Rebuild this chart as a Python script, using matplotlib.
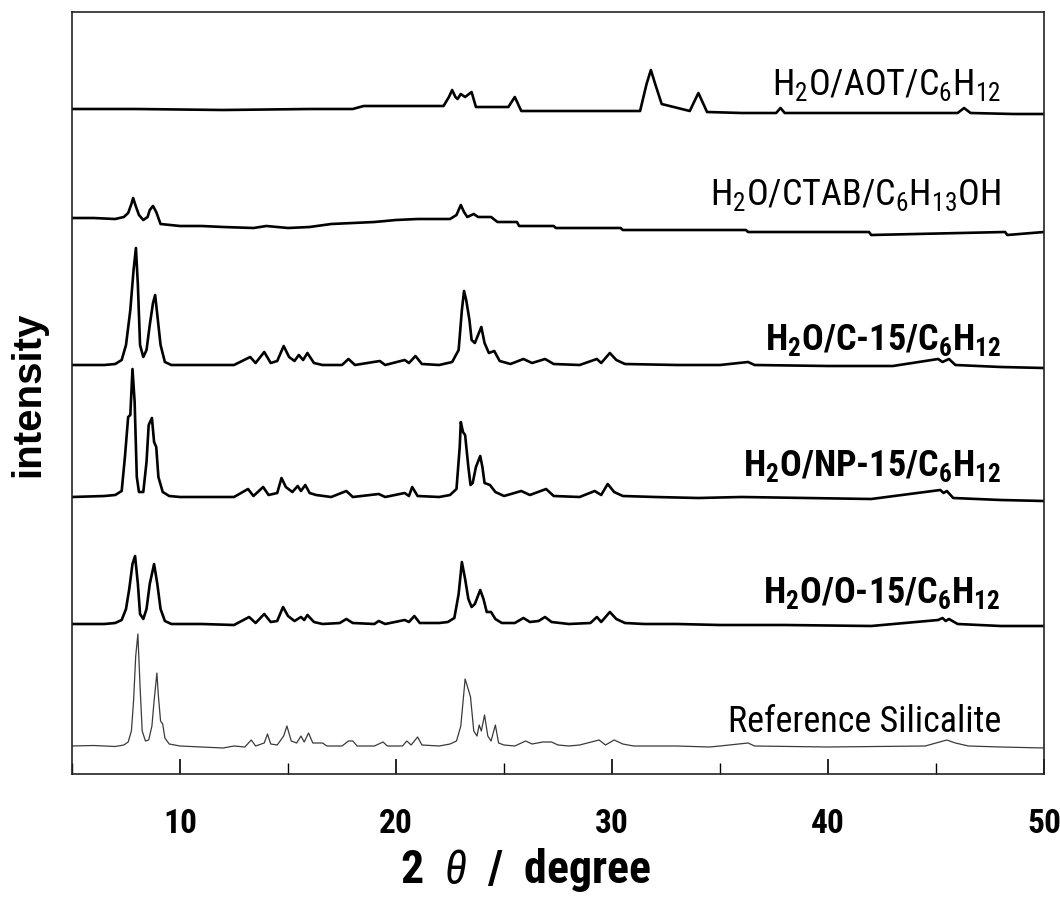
import matplotlib
matplotlib.use("Agg")
import matplotlib.pyplot as plt
from matplotlib import font_manager
from matplotlib.ticker import MultipleLocator

# buscar una fuente estrecha (tipo Arial Narrow)
entries = font_manager.fontManager.ttflist
names = {f.name for f in entries}
narrow = None
stretch = 'normal'
for cand in ['Liberation Sans Narrow', 'Arial Narrow', 'Roboto Condensed', 'DejaVu Sans Condensed',
             'Open Sans Condensed']:
    if cand in names:
        narrow = cand
        break
if narrow is None:
    for f in entries:
        if f.stretch in ('condensed', 'semi-condensed', 'extra-condensed') and 'Mono' not in f.name:
            narrow, stretch = f.name, f.stretch
            break
if narrow is None:
    narrow = 'Liberation Sans'

plt.rcParams['font.family'] = [narrow, 'DejaVu Sans']
plt.rcParams['font.stretch'] = stretch
plt.rcParams['mathtext.fontset'] = 'custom'
plt.rcParams['mathtext.rm'] = narrow + ':stretch=' + stretch
plt.rcParams['mathtext.it'] = narrow + ':italic:stretch=' + stretch
plt.rcParams['mathtext.bf'] = narrow + ':bold:stretch=' + stretch

# ---- datos (2theta, intensidad relativa) ----
ref_x = [5.0, 6.0, 7.0, 7.4, 7.6, 7.75, 7.85, 7.95, 8.05, 8.15, 8.25, 8.4, 8.55, 8.7, 8.8, 8.93, 9.0, 9.1, 9.2,
         9.3, 9.5, 10.0, 11.0, 12.0, 12.5, 13.0, 13.3, 13.5, 13.9, 14.05, 14.2, 14.5, 14.8, 14.95, 15.15, 15.4,
         15.6, 15.75, 15.95, 16.15, 16.6, 16.8, 17.5, 17.8, 18.0, 18.2, 19.0, 19.4, 19.6, 20.3, 20.5, 20.7, 21.0,
         21.2, 22.0, 22.5, 22.8, 23.0, 23.2, 23.3, 23.45, 23.6, 23.75, 23.85, 23.95, 24.1, 24.25, 24.4, 24.6,
         24.75, 25.0, 25.5, 26.0, 26.3, 26.8, 27.2, 27.5, 28.0, 28.5, 29.4, 29.7, 30.1, 30.5, 31.0, 33.0, 34.5,
         35.0, 36.3, 36.6, 40.0, 44.5, 45.5, 45.9, 46.5, 48.0, 50.0]
ref_y = [0, 0.5, -0.5, 1, 4, 15, 45, 90, 112, 60, 15, 5, 6, 20, 45, 73, 50, 25, 22,
         8, 2, 0, -1, -2, 0, -1, 6, 0, 3, 12, 2, 1, 10, 20, 5, 3,
         10, 4, 13, 3, 3, 0, 0, 5, 5, 0, 0, 4, 0, 0, 5, 1, 9,
         1, 0, 2, 5, 20, 67, 60, 49, 15, 10, 21, 15, 31, 10, 5, 21,
         3, 1, 0, 5, 2, 4, 4, 1, 0, 1, 6, 1, 6, 2, 0, 0, -1,
         0, 3, 0, -1, 0, 6, 3, 0, -1, -2]

o15_x = [5.0, 6.5, 7.0, 7.3, 7.5, 7.65, 7.8, 7.92, 8.05, 8.15, 8.3, 8.45, 8.6, 8.8, 8.95, 9.1, 9.3, 9.6, 11.0,
         12.5, 13.2, 13.5, 13.9, 14.2, 14.5, 14.77, 15.0, 15.3, 15.6, 15.75, 15.9, 16.2, 16.6, 17.4, 17.7, 18.0,
         19.0, 19.2, 19.5, 20.4, 20.6, 20.85, 21.1, 22.0, 22.4, 22.7, 22.9, 23.05, 23.2, 23.35, 23.5, 23.65,
         23.9, 24.05, 24.2, 24.4, 24.6, 24.9, 25.5, 25.9, 26.2, 26.6, 26.9, 27.2, 28.0, 29.0, 29.3, 29.5, 29.9,
         30.2, 30.6, 31.5, 33.0, 35.0, 38.0, 42.0, 45.1, 45.3, 45.45, 45.6, 46.0, 48.0, 50.0]
o15_y = [0, 0, 1, 4, 15, 35, 60, 68, 40, 10, 5, 15, 40, 60, 40, 15, 3, 0, 0,
         -1, 7, 1, 10, 2, 3, 17, 8, 3, 7, 4, 9, 2, 0, 1, 5, 1,
         0, 3, 0, 4, 2, 8, 1, 1, 2, 6, 30, 62, 45, 25, 17, 20,
         34, 25, 12, 12, 5, 1, 1, 6, 2, 3, 7, 2, 0, 1, 7, 2, 12,
         5, 1, 0, 0, -1, -1, -2, 4, 6, 3, 5, 0, -2, -2]

np15_x = [5.0, 6.5, 7.0, 7.3, 7.45, 7.6, 7.7, 7.8, 7.9, 8.0, 8.1, 8.3, 8.45, 8.55, 8.7, 8.8, 8.9, 9.0, 9.2,
          9.5, 10.0, 11.0, 12.5, 13.15, 13.4, 13.85, 14.1, 14.5, 14.7, 14.9, 15.2, 15.45, 15.6, 15.8, 16.0,
          16.3, 17.0, 17.7, 18.0, 19.2, 19.5, 20.4, 20.6, 20.75, 21.0, 22.0, 22.5, 22.8, 22.95, 23.0, 23.1,
          23.2, 23.35, 23.45, 23.55, 23.7, 23.9, 24.0, 24.1, 24.35, 24.6, 25.0, 25.8, 26.2, 26.95, 27.3, 28.5,
          29.2, 29.5, 29.8, 30.1, 30.5, 32.0, 34.0, 36.0, 39.0, 42.0, 45.2, 45.35, 45.5, 45.8, 48.0, 50.0]
np15_y = [0, 1, 2, 6, 40, 80, 82, 128, 95, 20, 5, 5, 35, 72, 79, 55, 50, 20, 5,
          1, 0, 0, 0, 8, 1, 10, 2, 4, 19, 10, 5, 11, 6, 12, 4,
          2, 0, 6, 0, 3, 0, 4, 1, 10, 1, 0, 2, 8, 50, 75, 65,
          62, 30, 12, 14, 30, 41, 30, 14, 12, 5, 1, 6, 2, 8, 1, 0,
          6, 2, 13, 5, 1, 0, -1, 0, -1, -2, 7, 4, 6, -1, -3, -4]

c15_x = [5.0, 6.5, 7.0, 7.3, 7.5, 7.7, 7.85, 7.96, 8.05, 8.15, 8.3, 8.45, 8.6, 8.75, 8.85, 8.95, 9.1, 9.3, 9.6,
         11.0, 12.5, 13.25, 13.5, 13.9, 14.2, 14.5, 14.8, 15.05, 15.3, 15.5, 15.7, 15.9, 16.2, 16.6, 17.5,
         17.8, 18.1, 19.25, 19.5, 20.4, 20.6, 20.9, 21.2, 22.0, 22.6, 22.9, 23.05, 23.15, 23.25, 23.4, 23.5,
         23.65, 23.8, 23.95, 24.1, 24.3, 24.55, 24.8, 25.3, 25.9, 26.3, 26.9, 27.3, 28.5, 29.3, 29.5, 29.9,
         30.2, 30.6, 33.0, 35.0, 36.3, 36.6, 40.0, 43.0, 45.1, 45.3, 45.6, 45.9, 48.0, 50.0]
c15_y = [0, 0, 1, 5, 20, 55, 95, 117, 80, 20, 8, 15, 40, 62, 70, 50, 20, 3, 0,
         0, 0, 8, 2, 13, 2, 4, 19, 8, 4, 10, 5, 12, 2, 0, 0,
         6, 0, 4, 0, 5, 2, 9, 1, 0, 3, 15, 55, 74, 65, 45, 25,
         22, 30, 38, 22, 12, 14, 4, 1, 6, 2, 6, 1, 0, 6, 2, 12,
         5, 1, 0, 0, 3, 0, -1, -1, 6, 3, 6, 0, -2, -3]

ctab_x = [5.0, 6.0, 7.0, 7.4, 7.6, 7.75, 7.83, 7.95, 8.1, 8.3, 8.5, 8.6, 8.75, 8.9, 9.1, 10.0, 11.0, 12.0,
          13.4, 14.0, 15.0, 16.0, 17.0, 18.0, 19.0, 20.0, 21.0, 22.5, 22.8, 23.0, 23.15, 23.3, 23.6, 23.8,
          24.4, 24.7, 25.6, 25.7, 27.3, 27.4, 30.4, 30.5, 33.0, 36.2, 36.3, 41.9, 42.0, 48.2, 48.3, 50.0]
ctab_y = [0, 0, -1, 1, 5, 14, 20, 12, 3, -2, 1, 8, 12, 6, -6, -8, -8, -9,
          -10, -8, -10, -9, -6, -5, -4, -2, -1, -1, 3, 13, 6, 1, 4, 1,
          1, -4, -4, -8, -8, -10, -10, -12, -12, -12, -14, -14, -17, -14, -17, -14]

aot_x = [5.0, 8.0, 12.0, 16.0, 18.0, 18.5, 20.0, 22.2, 22.45, 22.6, 22.75, 22.85, 23.0, 23.2, 23.5, 23.7,
         25.2, 25.5, 25.8, 31.3, 31.6, 31.8, 32.0, 32.3, 33.6, 34.0, 34.4, 36.0, 37.6, 37.8, 38.0, 46.0,
         46.3, 46.6, 48.6, 50.0]
aot_y = [0, 0, -1, 0, 0, 3, 3, 3, 12, 19, 12, 10, 15, 12, 17, 2,
         2, 12, -2, -2, 25, 39, 25, 5, -2, 16, -3, -4, -4, 1, -4, -4,
         1, -4, -5, -5]

labels = [r'H$_\mathrm{2}$O/AOT/C$_\mathrm{6}$H$_\mathrm{12}$',
          r'H$_\mathrm{2}$O/CTAB/C$_\mathrm{6}$H$_\mathrm{13}$OH',
          r'H$_\mathbf{2}$O/C-15/C$_\mathbf{6}$H$_\mathbf{12}$',
          r'H$_\mathbf{2}$O/NP-15/C$_\mathbf{6}$H$_\mathbf{12}$',
          r'H$_\mathbf{2}$O/O-15/C$_\mathbf{6}$H$_\mathbf{12}$',
          'Reference Silicalite']

# desplazamientos verticales de cada patrón
series = [(aot_x, aot_y, 665), (ctab_x, ctab_y, 556), (c15_x, c15_y, 409),
          (np15_x, np15_y, 277), (o15_x, o15_y, 150), (ref_x, ref_y, 28)]
label_y = [680, 570, 425, 299, 172, 43]
bold = [False, False, True, True, True, False]

fig = plt.figure(figsize=(10.6, 9.04), dpi=100)
ax = fig.add_axes([72/1060, 1-775/904, (1044-72)/1060, (775-13)/904])

for i, (x, y, off) in enumerate(series):
    if i == 5:
        ax.plot(x, [v + off for v in y], color='#3a3a3a', lw=0.9)
    else:
        ax.plot(x, [v + off for v in y], color='black', lw=1.9)
    ax.text(48.0, label_y[i], labels[i], ha='right', va='baseline', fontsize=26,
            fontweight='bold' if bold[i] else 'normal')

ax.set_xlim(5, 50)
ax.set_ylim(0, 762)
ax.xaxis.set_major_locator(MultipleLocator(10))
ax.xaxis.set_minor_locator(MultipleLocator(5))
ax.tick_params(axis='x', which='major', direction='in', length=11, width=1.2, labelsize=24, pad=24)
ax.tick_params(axis='x', which='minor', direction='in', length=8, width=1.0)
ax.set_yticks([])
for lab in ax.get_xticklabels():
    lab.set_fontweight('bold')
for s in ax.spines.values():
    s.set_linewidth(1.2)
    s.set_color('#222222')

ax.set_xlabel(r'2  $\mathit{\theta}$  /  degree', fontsize=33, fontweight='bold')
ax.xaxis.set_label_coords((526 - 72) / 972, -(846 - 775) / 762)
ax.set_ylabel('intensity', fontsize=29, fontweight='bold', family='Liberation Sans', labelpad=18)

fig.savefig('out.png', dpi=100)
